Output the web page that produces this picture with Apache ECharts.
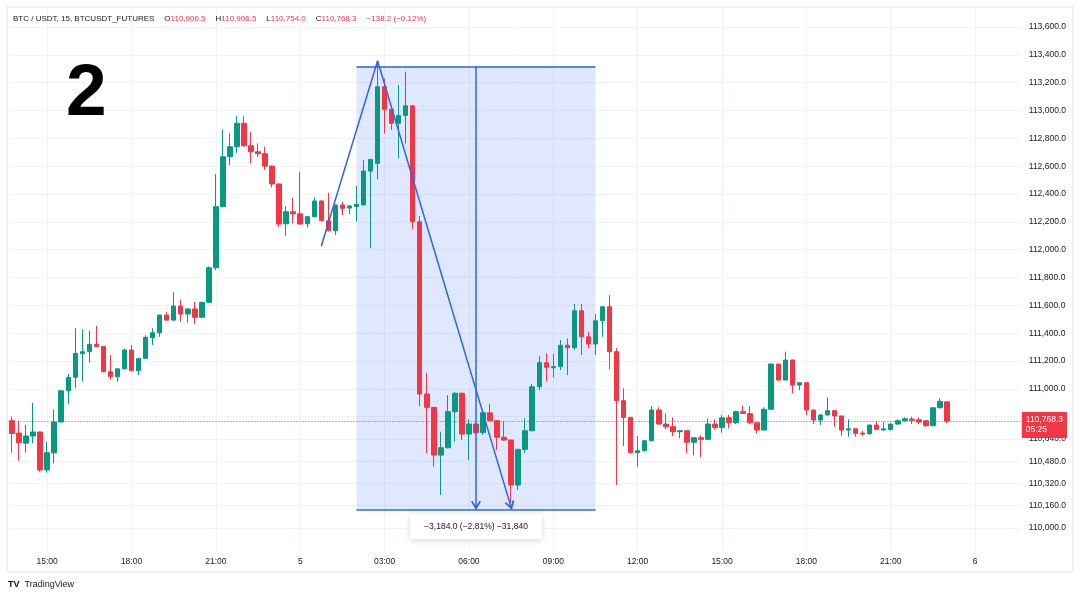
<!DOCTYPE html>
<html><head><meta charset="utf-8">
<script src="https://cdn.jsdelivr.net/npm/echarts@6/dist/echarts.min.js"></script>
<style>html,body{margin:0;padding:0;background:#fff}#c{width:1080px;height:598px}</style>
</head><body><div id="c"></div>
<script>
// 15-minute candles [open, close, low, high], first candle 4th 13:45
const ohlc = [
[110771,110680,110541,110800],[110682,110613,110483,110771],[110610,110661,110541,110740],[110661,110690,110608,110900],
[110690,110417,110404,110692],[110417,110541,110398,110620],[110540,110762,110465,110853],[110762,110986,110758,110990],
[110986,111083,110891,111106],[111083,111255,111004,111435],[111252,111267,111051,111428],[111267,111320,111188,111418],
[111320,111303,111300,111451],[111305,111123,111120,111308],[111123,111087,111068,111243],[111087,111144,111051,111146],
[111144,111279,111140,111290],[111279,111130,111128,111315],[111130,111219,111099,111222],[111219,111370,111215,111385],
[111368,111403,111315,111435],[111403,111530,111374,111532],[111530,111494,111490,111554],[111494,111595,111488,111698],
[111595,111538,111482,111638],[111538,111574,111475,111580],[111574,111514,111466,111626],[111514,111622,111510,111626],
[111622,111870,111618,111880],[111870,112309,111854,112544],[112309,112668,112305,112865],[112668,112740,112608,112836],
[112740,112908,112697,112960],[112908,112747,112740,112960],[112747,112704,112620,112848],[112704,112690,112668,112764],
[112690,112601,112572,112740],[112601,112472,112448,112605],[112472,112184,112165,112476],[112186,112273,112098,112314],
[112273,112258,112189,112373],[112258,112184,112180,112560],[112186,112237,112161,112240],[112237,112350,112232,112376],
[112350,112208,112204,112354],[112208,112136,112132,112409],[112136,112321,112105,112325],[112321,112297,112249,112345],
[112299,112314,112256,112322],[112310,112326,112201,112457],[112322,112565,112318,112644],[112565,112649,112010,112652],
[112620,113171,112506,113340],[113171,113009,112836,113231],[113009,112908,112860,113012],[112908,112965,112656,113183],
[112965,113034,112764,113279],[113034,112201,112146,113038],[112201,110963,110876,112242],[110963,110867,110537,111116],
[110867,110524,110440,110870],[110524,110577,110237,110692],[110577,110836,110572,110955],[110836,110968,110620,110979],
[110968,110675,110632,110972],[110675,110747,110488,110781],[110747,110685,110680,110750],[110685,110828,110668,110832],
[110828,110771,110768,110891],[110771,110652,110560,110775],[110652,110632,110628,110771],[110632,110309,110180,110635],
[110309,110565,110273,110568],[110565,110699,110537,110788],[110699,111015,110695,111035],[111015,111188,110991,111236],
[111188,111155,111051,111255],[111152,111160,111083,111250],[111160,111313,111135,111351],[111313,111296,111099,111363],
[111296,111561,111279,111610],[111561,111374,111243,111610],[111374,111322,111291,111410],[111322,111489,111243,111538],
[111489,111590,111374,111594],[111590,111267,111140,111674],[111267,110915,110309,111291],[110915,110795,110589,111004],
[110795,110541,110537,110798],[110541,110555,110440,110661],[110555,110627,110551,110630],[110627,110848,110623,110876],
[110848,110747,110744,110867],[110747,110728,110709,110824],[110728,110692,110661,110795],[110692,110699,110644,110702],
[110699,110616,110537,110702],[110616,110649,110524,110652],[110649,110637,110508,110668],[110637,110747,110632,110788],
[110747,110723,110709,110781],[110723,110792,110685,110812],[110792,110756,110716,110812],[110756,110836,110747,110843],
[110836,110824,110819,110881],[110822,110756,110747,110876],[110756,110704,110680,110758],[110704,110853,110700,110867],
[110853,111178,110850,111182],[111178,111063,111060,111182],[111063,111207,111060,111267],[111207,111027,110968,111210],
[111027,111044,110991,111047],[111044,110848,110812,111047],[110848,110776,110747,110851],[110776,110812,110740,110819],
[110812,110843,110809,110939],[110843,110805,110728,110846],[110805,110704,110661,110808],[110704,110713,110656,110781],
[110713,110680,110656,110716],[110682,110675,110661,110699],[110678,110740,110668,110742],[110740,110709,110704,110764],
[110704,110713,110699,110762],[110709,110747,110699,110750],[110747,110771,110740,110781],[110771,110785,110764,110795],
[110783,110774,110747,110800],[110778,110762,110747,110795],[110771,110735,110728,110776],[110735,110864,110731,110867],
[110864,110910,110860,110932],[110906.5,110768.3,110754.0,110906.5]
];
const yTicks = [110000,110160,110320,110480,110640,110800,111000,111200,111400,111600,111800,112000,112200,112400,112600,112800,113000,113200,113400,113600];
const xTickIdx = [5,17,29,41,53,65,77,89,101,113,125,137];
const startDay = 4, startMinutes = 13*60+45, slotCount = 144;
const countdown = '05:25';
const trendPoints = [[44,112026],[52,113358],[71.1,110132]];
const rangeX = [49,66,83];          // left, middle, right candle index of the date/price range
const rangeY = [113316,110132];     // top, bottom price
const rangeText = '\u22123,184.0 (\u22122.81%) \u221231,840';

const categories = [];
for (let i = 0; i < slotCount; i++) {
  const m = startMinutes + 15*i;
  const day = startDay + Math.floor(m/1440);
  const mm = m % 1440;
  categories.push(day + ' ' + String(Math.floor(mm/60)).padStart(2,'0') + ':' + String(mm%60).padStart(2,'0'));
}
const fmt1 = v => v.toLocaleString('en-US',{minimumFractionDigits:1,maximumFractionDigits:1});
const last = ohlc[ohlc.length-1];
const chg = last[1] - last[0];
const chgPct = (Math.abs(chg)/last[0]*100).toFixed(2);
const font = 'Liberation Sans';
const blue = '#2f64e6';
const up = '#089981', down = '#f23645';
const chevron = 'path://M5,0 L10,8 L8.6,9.2 L5,3.4 L1.4,9.2 L0,8 Z';
const hs = {fontSize:8,fontFamily:font,fontWeight:'normal'};

const chart = echarts.init(document.getElementById('c'));
chart.setOption({
  animation:false,
  backgroundColor:'#ffffff',
  textStyle:{fontFamily:font},
  title:[
    {left:13, top:10, padding:0, text:
      '{n|BTC / USDT, 15, BTCUSDT_FUTURES}  {n|O}{r|'+fmt1(last[0])+'}  {n|H}{r|'+fmt1(last[3])+'}  {n|L}{r|'+fmt1(last[2])+'}  {n|C}{r|'+fmt1(last[1])+'}  {r|\u2212'+fmt1(Math.abs(chg))+' (\u2212'+chgPct+'%)}',
      textStyle:{fontWeight:'normal',rich:{n:Object.assign({color:'#131722'},hs),r:Object.assign({color:down},hs)}}},
    {left:66, top:58, padding:0, text:'2', textStyle:{fontSize:73,fontWeight:'bold',color:'#000',fontFamily:font}},
    {left:8, top:576, padding:0, text:'{l|TV} {t|TradingView}', textStyle:{fontWeight:'normal',rich:{l:{fontSize:9,fontWeight:'bold',color:'#131722',fontFamily:font},t:{fontSize:9,fontWeight:'normal',color:'#131722',fontFamily:font}}}}
  ],
  graphic:[{type:'rect',silent:true,shape:{x:7,y:7,width:1066,height:565},style:{fill:'none',stroke:'#e0e3eb',lineWidth:1}}],
  grid:{left:8.5,right:59.2,top:7,bottom:48},
  xAxis:[
    {type:'category',data:categories,boundaryGap:true,
     axisLine:{show:false},axisTick:{show:false},splitLine:{show:false},
     axisLabel:{interval:(i)=>xTickIdx.indexOf(i)>=0,
       formatter:(v)=>{const p=v.split(' ');return p[1]==='00:00'?p[0]:p[1];},
       color:'#131722',fontSize:8.5,fontFamily:font,margin:7}},
    {type:'value',min:-0.5,max:143.5,position:'bottom',
     axisLine:{show:false},axisLabel:{show:false},axisTick:{show:false,customValues:xTickIdx},
     splitLine:{show:true,lineStyle:{color:'#f0f3fa',width:1}}}
  ],
  yAxis:{type:'value',position:'right',min:109842,max:113744,scale:true,
    axisLine:{show:false},axisTick:{show:false,customValues:yTicks},
    axisLabel:{customValues:yTicks,formatter:fmt1,color:'#131722',fontSize:8.5,fontFamily:font,margin:8},
    splitLine:{show:true,lineStyle:{color:'#f0f3fa',width:1}}},
  series:[
    {type:'candlestick',xAxisIndex:0,yAxisIndex:0,data:ohlc,barWidth:5,
     itemStyle:{color:up,color0:down,borderColor:up,borderColor0:down,borderWidth:1},
     markLine:{silent:true,symbol:['none','none'],animation:false,z:10,
       data:[{yAxis:last[1]}],
       lineStyle:{color:down,type:[1,2],width:1},
       label:{show:true,position:'end',distance:1,formatter:fmt1(last[1])+'\n'+countdown,
         backgroundColor:down,color:'#fff',fontSize:8.5,fontFamily:font,lineHeight:10,padding:[3,4,3,4],offset:[0,4]}}},
    {type:'line',xAxisIndex:1,yAxisIndex:0,data:trendPoints,showSymbol:false,symbol:'none',
     lineStyle:{opacity:0},z:5,
     markArea:{silent:true,itemStyle:{color:'rgba(41,98,255,0.15)'},
       data:[[{coord:[rangeX[0],rangeY[0]]},{coord:[rangeX[2],rangeY[1]]}]]},
     markLine:{silent:true,animation:false,symbol:['none','none'],symbolSize:[10,9],
       lineStyle:{color:blue,width:1.5,type:'solid'},label:{show:false},
       data:[
         [{coord:trendPoints[0]},{coord:trendPoints[1]}],
         [{coord:trendPoints[1]},{coord:trendPoints[2],symbol:chevron,symbolSize:[10,9],symbolOffset:[0,4.5]}],
         [{coord:[rangeX[1],rangeY[0]]},{coord:[rangeX[1],rangeY[1]],symbol:chevron,symbolSize:[10,9],symbolOffset:[0,4.5]}],
         [{coord:[rangeX[0],rangeY[0]]},{coord:[rangeX[2],rangeY[0]]}],
         [{coord:[rangeX[0],rangeY[1]]},{coord:[rangeX[2],rangeY[1]]}]
       ]},
     markPoint:{silent:true,animation:false,
       data:[{coord:[rangeX[1],rangeY[1]],symbol:'circle',symbolSize:1,itemStyle:{color:'rgba(0,0,0,0)'},
         label:{show:true,position:'bottom',distance:4,formatter:rangeText,color:'#131722',fontSize:8.5,fontFamily:font,
           backgroundColor:'#ffffff',padding:[8,14],borderRadius:3,shadowBlur:6,shadowColor:'rgba(0,0,0,0.18)',shadowOffsetY:1}}]}}
  ]
});
</script></body></html>
